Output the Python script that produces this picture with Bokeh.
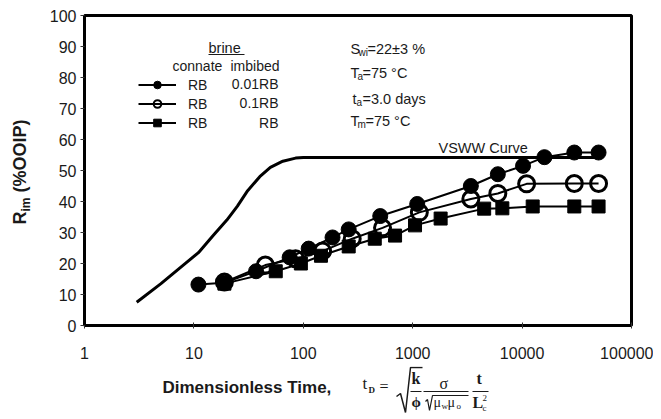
import math
from bokeh.plotting import figure
from bokeh.models import (Range1d, FixedTicker, Label, Legend, LegendItem,
                          BasicTickFormatter)
from bokeh.layouts import gridplot
from bokeh.embed import file_html
from bokeh.resources import INLINE

# ---------------- data ----------------
vsww_t = [3, 5, 8, 11, 15, 20, 25, 31, 40, 50, 65, 85, 100, 1000, 10000, 50000]
vsww_r = [7.5, 13.5, 19.5, 23.5, 29, 34, 38.5, 43.5, 48, 51, 53, 54, 54.2, 54.2, 54.2, 54.2]

rb001_t = [11, 19, 37, 75, 112, 185, 260, 505, 1100, 3400, 6000, 10200, 16000, 30000, 50000]
rb001_r = [13.2, 13.8, 17.5, 22, 24.8, 28.4, 31, 35.3, 39.2, 45, 48.8, 51.5, 54.3, 55.8, 55.8]

rb01_t = [19, 45, 85, 150, 280, 530, 1150, 3400, 6000, 11000, 30000, 50000]
rb01_r = [14, 19.5, 21.5, 24, 28, 31.5, 36.5, 40.8, 42.6, 45.7, 45.8, 45.8]

rb_t = [19, 56, 95, 145, 260, 450, 690, 1050, 1800, 4500, 6600, 12500, 30000, 50000]
rb_r = [13.5, 17.5, 20, 22.5, 25.5, 28, 29, 32.3, 34.5, 37.7, 37.8, 38.4, 38.4, 38.4]

x_ticks = [1, 10, 100, 1000, 10000, 100000]
x_tick_labels = ["1", "10", "100", "1000", "10000", "100000"]
y_ticks = [0, 10, 20, 30, 40, 50, 60, 70, 80, 90, 100]

legend_connate = ["RB", "RB", "RB"]
legend_imbibed = ["0.01RB", "0.1RB", "RB"]

# ---------------- layout constants (page pixels) ----------------
FL, FR, FT, FB = 84, 631, 15, 325      # plot frame edges
YW = 40                                # width of left title strip
PW = 613                               # main plot width
PH = 366                               # main plot height
F2H = 49                               # formula strip height
DEC = (FR - FL) / 5.0
YU = (FB - FT) / 100.0


def dx(px):
    return 10 ** ((px - FL) / DEC)


def dy(py):
    return (FB - py) / YU


SANS = "Liberation Sans"
SERIF = "Liberation Serif"
INK = "#1a1a1a"

p = figure(width=PW, height=PH, x_axis_type="log",
           x_range=Range1d(1, 100000), y_range=Range1d(0, 100),
           output_backend="svg", toolbar_location=None,
           min_border_left=FL - YW, min_border_right=PW - (FL - YW) - (FR - FL),
           min_border_top=FT, min_border_bottom=PH - FB)

p.xgrid.visible = False
p.ygrid.visible = False
p.outline_line_color = "black"
p.outline_line_width = 3
p.outline_line_alpha = 1.0

p.xaxis.ticker = FixedTicker(ticks=x_ticks)
p.xaxis.formatter = BasicTickFormatter(use_scientific=False)
p.xaxis.major_label_overrides = {float(k): v for k, v in zip(x_ticks, x_tick_labels)}
p.yaxis.ticker = FixedTicker(ticks=y_ticks)

for ax in (p.xaxis[0], p.yaxis[0]):
    ax.axis_line_width = 3
    ax.axis_line_color = "black"
    ax.major_tick_line_color = "#333333"
    ax.major_tick_line_width = 1
    ax.minor_tick_line_color = None
    ax.major_label_text_font = SANS
    ax.major_label_text_font_size = "16px"
    ax.major_label_text_color = INK

p.xaxis.major_tick_in = 3
p.xaxis.major_tick_out = 3
p.xaxis.major_label_standoff = 18
p.yaxis.major_tick_in = 0
p.yaxis.major_tick_out = 4
p.yaxis.major_label_standoff = 4

# ---------------- data renderers ----------------
p.line(vsww_t, vsww_r, line_width=3, color="black")

p.line(rb_t, rb_r, line_width=2, color="black")
p.scatter(rb_t, rb_r, marker="square", size=13, color="black")

p.line(rb01_t, rb01_r, line_width=2, color="black")
p.scatter(rb01_t, rb01_r, marker="circle", size=16, fill_alpha=0,
          line_color="black", line_width=3)

p.line(rb001_t, rb001_r, line_width=2, color="black")
p.scatter(rb001_t, rb001_r, marker="circle", size=15, color="black")

# ---------------- legend (sample glyphs only, no data) ----------------
nan = float("nan")
l1 = p.line([nan], [nan], line_width=2, color="black")
m1 = p.scatter([nan], [nan], marker="circle", size=10, color="black")
l2 = p.line([nan], [nan], line_width=2, color="black")
m2 = p.scatter([nan], [nan], marker="circle", size=10, fill_alpha=0,
               line_color="black", line_width=2)
l3 = p.line([nan], [nan], line_width=2, color="black")
m3 = p.scatter([nan], [nan], marker="square", size=9, color="black")

legend = Legend(items=[LegendItem(label=legend_connate[0], renderers=[l1, m1]),
                       LegendItem(label=legend_connate[1], renderers=[l2, m2]),
                       LegendItem(label=legend_connate[2], renderers=[l3, m3])],
                location=(138 - FL, FB - 132), padding=0, margin=0, spacing=0,
                glyph_width=38, glyph_height=19, label_height=19,
                label_standoff=12, border_line_alpha=0, background_fill_alpha=0,
                label_text_font=SANS, label_text_font_size="14px",
                label_text_color=INK)
p.add_layout(legend)


def lab(fig, x, y, text, size, bold=False, align="left", font=SANS, angle=0.0):
    fig.add_layout(Label(x=x, y=y, text=text, text_font=font,
                         text_font_size=f"{size}px",
                         text_font_style="bold" if bold else "normal",
                         text_align=align, text_baseline="middle",
                         angle=angle, text_color=INK))


def plab(px, py, text, size, **kw):
    lab(p, dx(px), dy(py), text, size, **kw)


# legend header
plab(208, 47, "brine", 14.5)
p.segment(x0=[dx(208)], y0=[dy(54)], x1=[dx(244)], y1=[dy(54)], line_width=1, color=INK)
plab(172, 65, "connate", 14)
plab(230, 65, "imbibed", 14)
for i, t in enumerate(legend_imbibed):
    plab(278, 83 + 19.5 * i, t, 14, align="right")

# conditions
plab(350, 48, "S", 14.5)
plab(358, 52, "wi", 10)
plab(367, 48, "=22±3 %", 14.5)
plab(350, 72, "T", 14.5)
plab(357, 76, "a", 10)
plab(362, 72, "=75 °C", 14.5)
plab(352, 98, "t", 14.5)
plab(356, 102, "a", 10)
plab(362, 98, "=3.0 days", 14.5)
plab(350, 120, "T", 14.5)
plab(357, 124, "m", 10)
plab(365, 120, "=75 °C", 14.5)
plab(438, 147, "VSWW Curve", 14.5)

# ---------------- left strip: rotated y title ----------------
fy = figure(width=YW, height=PH, x_range=Range1d(0, YW), y_range=Range1d(FB, FT),
            output_backend="svg", toolbar_location=None,
            min_border_left=0, min_border_right=0,
            min_border_top=FT, min_border_bottom=PH - FB,
            x_axis_location=None, y_axis_location=None, outline_line_color=None)
fy.xgrid.visible = False
fy.ygrid.visible = False
A = math.pi / 2
lab(fy, 19, 224, "R", 18, bold=True, angle=A)
lab(fy, 25, 211, "im", 12, bold=True, angle=A)
lab(fy, 19, 192, "(%OOIP)", 18, bold=True, angle=A)

# ---------------- bottom strip: x title + formula ----------------
OY = PH
f2 = figure(width=PW, height=F2H, x_range=Range1d(FL, FR), y_range=Range1d(OY + F2H, OY),
            output_backend="svg", toolbar_location=None,
            min_border_left=FL - YW, min_border_right=PW - (FL - YW) - (FR - FL),
            min_border_top=0, min_border_bottom=0,
            x_axis_location=None, y_axis_location=None, outline_line_color=None)
f2.xgrid.visible = False
f2.ygrid.visible = False


def flab(px, py, text, size, **kw):
    lab(f2, px, py, text, size, **kw)


def fline(pts, w=1.2):
    f2.line([a for a, b in pts], [b for a, b in pts], line_width=w, color=INK)


flab(162, 387, "Dimensionless Time,", 17, bold=True)

flab(362, 383, "t", 17, font=SERIF)
flab(368, 389, "D", 9, bold=True, font=SERIF)
flab(379, 386, "=", 16, font=SERIF)
fline([(396, 396), (400, 393), (405, 412), (410, 367), (422, 367)], 1.5)
flab(411, 378, "k", 16, bold=True, font=SERIF)
fline([(410, 391), (421, 391)], 1.0)
flab(411, 401, "ϕ", 15, bold=True, font=SERIF)
flab(439, 383, "σ", 16, font=SERIF)
fline([(423, 391), (468, 391)], 1.2)
fline([(425, 401), (427, 399), (429, 410), (432, 395), (468, 395)], 1.2)
flab(433, 402, "μ", 14, font=SERIF)
flab(441, 405, "w", 9, font=SERIF)
flab(447, 402, "μ", 14, font=SERIF)
flab(456, 405, "o", 9, font=SERIF)
flab(476, 378, "t", 16, bold=True, font=SERIF)
fline([(472, 391), (488, 391)], 1.2)
flab(472, 402, "L", 16, bold=True, font=SERIF)
flab(482, 407, "c", 9, font=SERIF)
flab(482, 397, "2", 9, font=SERIF)

grid = gridplot([[fy, p], [None, f2]], toolbar_location=None)
open("out.html", "w").write(file_html(grid, INLINE))
